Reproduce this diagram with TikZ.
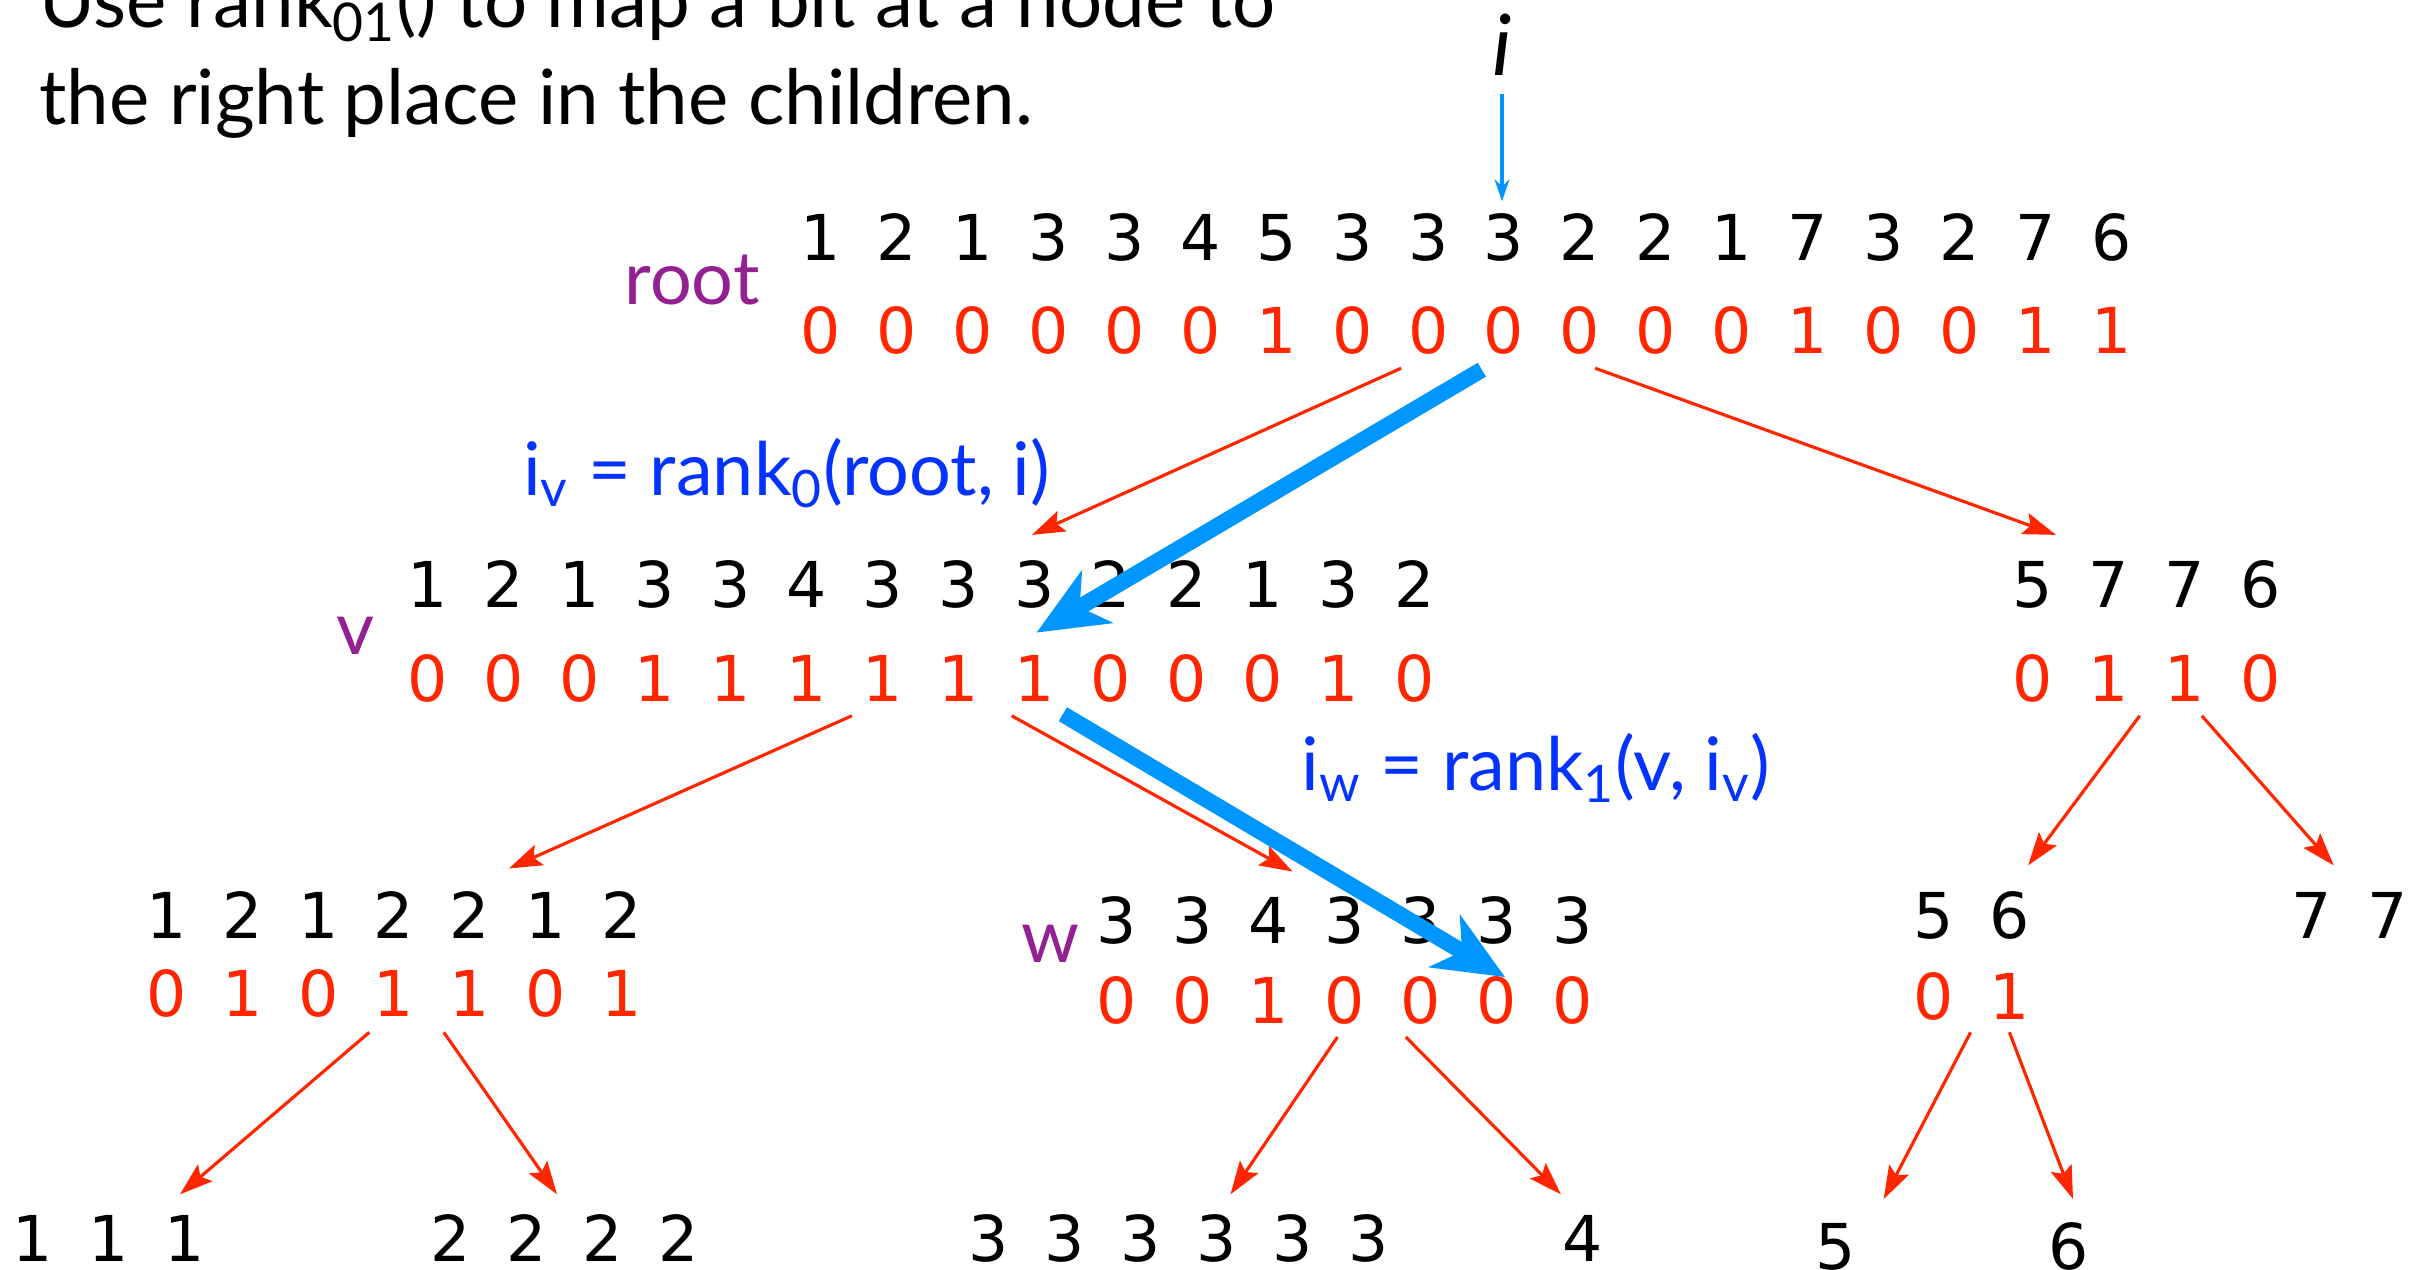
\documentclass[tikz,border=0pt]{standalone}
\usepackage{fontspec}
\setmainfont{Lato}
\newfontfamily\digitfont[WordSpace={1.775,0,0}]{DejaVu Sans}
\usetikzlibrary{arrows.meta,calc}
\definecolor{bitred}{HTML}{FF2600}
\definecolor{ptrblue}{HTML}{0096FF}
\definecolor{eqblue}{HTML}{0433FF}
\definecolor{tagpurple}{HTML}{942192}

\begin{document}
\begin{tikzpicture}[
  x=0.01552cm,y=-0.01552cm,
  every node/.style={inner sep=0pt},
  vals/.style={font=\digitfont\fontsize{18}{18}\selectfont,text height=13.1pt,text depth=0pt},
  bits/.style={vals,text=bitred},
  tag/.style={font=\fontsize{21}{21}\selectfont,text=tagpurple,anchor=base},
  eq/.style={font=\fontsize{21}{21}\selectfont,text=eqblue},
  note/.style={font=\fontsize{21.7}{21.7}\selectfont,anchor=base west},
  flow/.style={-{Stealth[length=3.3mm,width=2.2mm,inset=0.6mm]},line width=0.9pt,draw=bitred},
  jump/.style={-{Stealth[length=7mm,width=6mm,inset=2mm]},line width=4.6pt,draw=ptrblue},
  ptr/.style={-{Stealth[length=2.2mm,width=1.5mm]},line width=0.9pt,draw=ptrblue}
]
\useasboundingbox (0,0) rectangle (1568,818);

\node[note] (title1) at (25,18) {Use rank\textsubscript{01}() to map a bit at a node to};
\node[note] (title2) at (25,80) {the right place in the children.};
\node[font=\itshape\fontsize{24}{24}\selectfont] (pos) at (968,29) {i};

% root
\node[vals] (rootv) at (945,153) {1 2 1 3 3 4 5 3 3 3 2 2 1 7 3 2 7 6};
\node[bits] (rootb) at (945,213) {0 0 0 0 0 0 1 0 0 0 0 0 0 1 0 0 1 1};
\node[tag] (roottag) at (446,196) {root};

% level 1
\node[vals] (vv) at (593.5,377) {1 2 1 3 3 4 3 3 3 2 2 1 3 2};
\node[bits] (vb) at (593.5,437) {0 0 0 1 1 1 1 1 1 0 0 0 1 0};
\node[tag] (vtag) at (229,422) {v};
\node[vals] (r1v) at (1383.5,377) {5 7 7 6};
\node[bits] (r1b) at (1383.5,437) {0 1 1 0};

% level 2
\node[vals] (l2v) at (254,590) {1 2 1 2 2 1 2};
\node[bits] (l2b) at (254,640) {0 1 0 1 1 0 1};
\node[vals] (wv) at (866.5,593) {3 3 4 3 3 3 3};
\node[bits] (wb) at (866.5,645) {0 0 1 0 0 0 0};
\node[tag] (wtag) at (677,620) {w};
\node[vals] (fsv) at (1270.5,590) {5 6};
\node[bits] (fsb) at (1270.5,642) {0 1};
\node[vals] (ssv) at (1514.5,590) {7 7};

% leaves
\node[vals] (ones) at (70,798) {1 1 1};
\node[vals] (twos) at (364,798) {2 2 2 2};
\node[vals] (threes) at (759.5,798) {3 3 3 3 3 3};
\node[vals] (four) at (1020,798) {4};
\node[vals] (five) at (1183,803) {5};
\node[vals] (six) at (1333,803) {6};

\node[eq] (eqv) at (507,305) {i\textsubscript{v} = rank\textsubscript{0}(root, i)};
\node[eq] (eqw) at (990,495) {i\textsubscript{w} = rank\textsubscript{1}(v, i\textsubscript{v})};

\draw[flow] ($(rootb.south)+(-42,9)$) -- ($(vv.north)+(71.5,-17)$);
\draw[flow] ($(rootb.south)+(83,9)$) -- ($(r1v.north)+(-58.5,-17)$);
\draw[flow] ($(vb.south)+(-44.5,9)$) -- ($(l2v.north)+(74,-15)$);
\draw[flow] ($(vb.south)+(58.5,9)$) -- ($(wv.north)+(-33.5,-16)$);
\draw[flow] ($(r1b.south)+(-4.5,9)$) -- ($(fsv.north)+(36.5,-17)$);
\draw[flow] ($(r1b.south)+(35.5,9)$) -- ($(ssv.north)+(-10.5,-17)$);
\draw[flow] ($(l2b.south)+(-16,10)$) -- ($(ones.north)+(46,-13)$);
\draw[flow] ($(l2b.south)+(32,10)$) -- ($(twos.north)+(-5,-13)$);
\draw[flow] ($(wb.south)+(-4.5,8)$) -- ($(threes.north)+(33.5,-13)$);
\draw[flow] ($(wb.south)+(39.5,8)$) -- ($(four.north)+(-14,-13)$);
\draw[flow] ($(fsb.south)+(-0.5,8)$) -- ($(five.north)+(31,-15)$);
\draw[flow] ($(fsb.south)+(24.5,8)$) -- ($(six.north)+(3,-15)$);

\draw[ptr] ($(pos.south)+(0,11)$) -- ($(rootv.north)+(23,-8)$);
\draw[jump] ($(rootb.south)+(10,10)$) -- ($(vb.north)+(74.5,-14)$);
\draw[jump] ($(vb.south)+(91.5,8)$) -- ($(wb.north)+(103.5,0)$);
\end{tikzpicture}
\end{document}
